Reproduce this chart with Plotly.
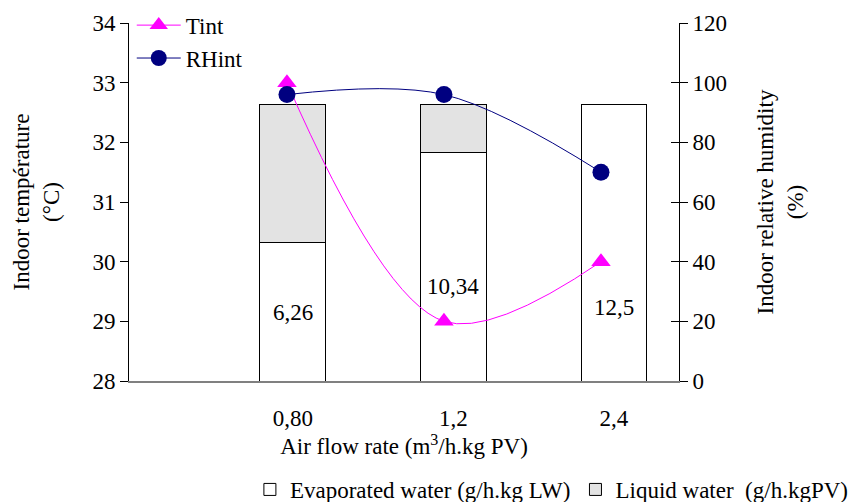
import plotly.graph_objects as go

# ---- data ----
categories = ["0,80", "1,2", "2,4"]
evaporated = [6.26, 10.34, 12.5]
liquid = [6.24, 2.16, 0.0]
evap_labels = ["6,26", "10,34", "12,5"]
tint = [33, 29, 30]
rhint = [96, 96, 70]

FONT = "Liberation Serif"
FS = 23

fig = go.Figure()

# bars on the main subplot (drawn first, underneath)
fig.add_trace(go.Bar(
    x=categories, y=evaporated, name="Evaporated water (g/h.kg LW)",
    marker=dict(color="white", line=dict(color="black", width=1)),
    width=0.41, xaxis="x", yaxis="y", legend="legend2",
))
fig.add_trace(go.Bar(
    x=categories, y=liquid, name="Liquid water  (g/h.kgPV)",
    marker=dict(color="#E3E3E3", line=dict(color="black", width=1)),
    width=0.41, xaxis="x", yaxis="y", legend="legend2",
))
# lines on overlaid axes
fig.add_trace(go.Scatter(
    x=categories, y=tint, name="Tint", mode="lines+markers",
    line=dict(color="#FF00FF", width=1, shape="spline", smoothing=1.0),
    marker=dict(symbol="triangle-up", size=17, color="#FF00FF"),
    xaxis="x2", yaxis="y2", legend="legend",
))
fig.add_trace(go.Scatter(
    x=categories, y=rhint, name="RHint", mode="lines+markers",
    line=dict(color="#000080", width=1, shape="spline", smoothing=1.0),
    marker=dict(symbol="circle", size=17, color="#000080"),
    xaxis="x2", yaxis="y3", legend="legend",
))
# dummy trace to activate the crossing-tick axis
fig.add_trace(go.Scatter(x=[None], y=[None], xaxis="x2", yaxis="y4",
                         showlegend=False, hoverinfo="skip"))

label_y = [3.08, 4.25, 3.3]
for c, t, ly in zip(categories, evap_labels, label_y):
    fig.add_annotation(x=c, y=ly, xref="x", yref="y", text=t, showarrow=False,
                       font=dict(family=FONT, size=FS, color="black"))

fig.update_layout(
    width=864, height=502,
    margin=dict(l=121, r=193, t=15, b=129, autoexpand=False),
    paper_bgcolor="white", plot_bgcolor="white",
    font=dict(family=FONT, size=FS, color="black"),
    barmode="stack",
    xaxis=dict(type="category", categoryorder="array", categoryarray=categories,
               range=[-1.02, 2.405], showline=True, linecolor="#808080", linewidth=2,
               ticks="", showgrid=False, zeroline=False, ticklabelstandoff=15,
               title=dict(text="Air flow rate (m<sup>3</sup>/h.kg PV)", standoff=5,
                          font=dict(family=FONT, size=FS))),
    yaxis=dict(range=[0, 16.17], visible=False),
    xaxis2=dict(type="category", categoryorder="array", categoryarray=categories,
                range=[-1.006, 2.497], overlaying="x", visible=False),
    yaxis2=dict(range=[28, 34], dtick=1, overlaying="y", side="left", anchor="x",
                showline=True, linecolor="black", linewidth=1,
                ticks="outside", ticklen=8, tickcolor="black", showgrid=False, zeroline=False,
                title=dict(text="Indoor température<br>(°C)", standoff=26,
                           font=dict(family=FONT, size=FS))),
    yaxis3=dict(range=[0, 120], dtick=20, overlaying="y", side="right", anchor="x",
                showline=True, linecolor="black", linewidth=1,
                ticks="outside", ticklen=8, tickcolor="black", showgrid=False, zeroline=False,
                title=dict(text="Indoor relative humidity<br>(%)", standoff=30,
                           font=dict(family=FONT, size=FS))),
    yaxis4=dict(range=[0, 120], dtick=20, overlaying="y", side="right", anchor="x",
                ticks="inside", ticklen=8, tickcolor="black", showticklabels=False,
                showgrid=False, zeroline=False, showline=False),
    legend=dict(x=0.005, y=1.054, xanchor="left", yanchor="top", bgcolor="rgba(0,0,0,0)",
                itemwidth=44, font=dict(family=FONT, size=FS), tracegroupgap=0,
                traceorder="normal"),
    legend2=dict(orientation="h", x=1.318, y=-0.303, xanchor="right", yanchor="middle",
                 bgcolor="rgba(0,0,0,0)", font=dict(family=FONT, size=FS),
                 itemwidth=30, traceorder="normal"),
    showlegend=True,
)

fig.write_html("out.html")
